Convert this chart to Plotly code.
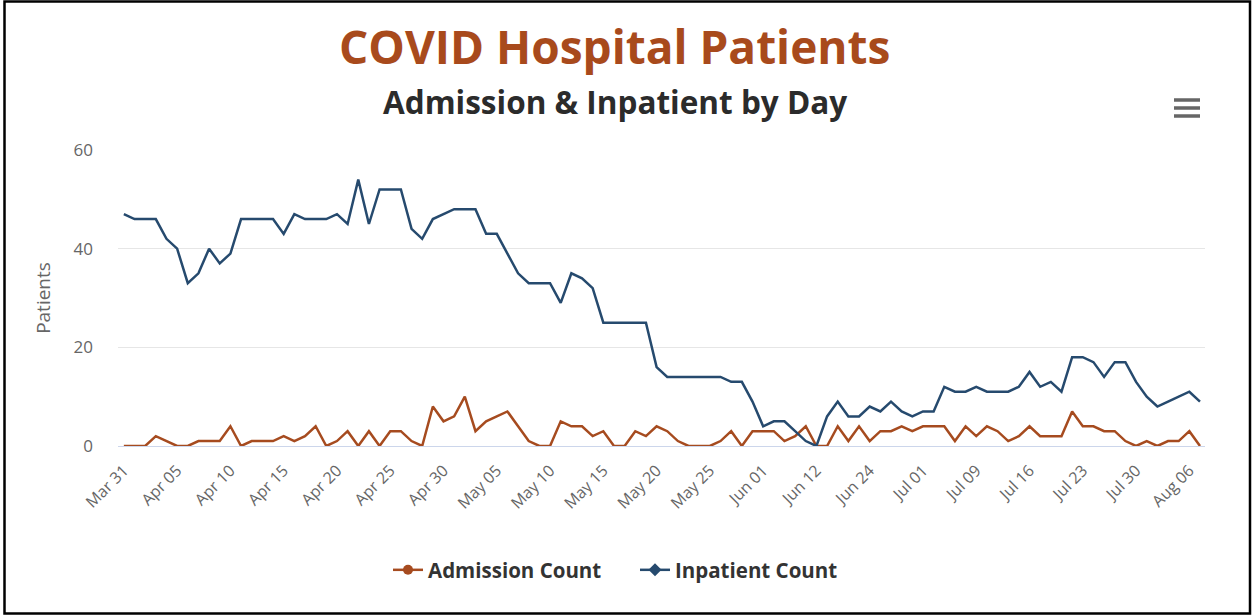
import plotly.graph_objects as go

dates = [
    "Mar 31",
    "Apr 01", "Apr 02", "Apr 03", "Apr 04", "Apr 05", "Apr 06", "Apr 07", "Apr 08", "Apr 09", "Apr 10",
    "Apr 11", "Apr 12", "Apr 13", "Apr 14", "Apr 15", "Apr 16", "Apr 17", "Apr 18", "Apr 19", "Apr 20",
    "Apr 21", "Apr 22", "Apr 23", "Apr 24", "Apr 25", "Apr 26", "Apr 27", "Apr 28", "Apr 29", "Apr 30",
    "May 01", "May 02", "May 03", "May 04", "May 05", "May 06", "May 07", "May 08", "May 09", "May 10",
    "May 11", "May 12", "May 13", "May 14", "May 15", "May 16", "May 17", "May 18", "May 19", "May 20",
    "May 21", "May 22", "May 23", "May 24", "May 25", "May 26", "May 27", "May 28", "May 29",
    "Jun 01", "Jun 02", "Jun 04", "Jun 08", "Jun 10",
    "Jun 12", "Jun 15", "Jun 17", "Jun 19", "Jun 22",
    "Jun 24", "Jun 25", "Jun 26", "Jun 29", "Jun 30",
    "Jul 01", "Jul 02", "Jul 06", "Jul 07", "Jul 08",
    "Jul 09", "Jul 10", "Jul 13", "Jul 14", "Jul 15",
    "Jul 16", "Jul 17", "Jul 20", "Jul 21", "Jul 22",
    "Jul 23", "Jul 24", "Jul 27", "Jul 28", "Jul 29",
    "Jul 30", "Jul 31", "Aug 03", "Aug 04", "Aug 05",
    "Aug 06", "Aug 07",
]

admission_count = [
    0, 0, 0, 2, 1, 0, 0, 1, 1, 1,
    4, 0, 1, 1, 1, 2, 1, 2, 4, 0,
    1, 3, 0, 3, 0, 3, 3, 1, 0, 8,
    5, 6, 10, 3, 5, 6, 7, 4, 1, 0,
    0, 5, 4, 4, 2, 3, 0, 0, 3, 2,
    4, 3, 1, 0, 0, 0, 1, 3, 0, 3,
    3, 3, 1, 2, 4, 0, 0, 4, 1, 4,
    1, 3, 3, 4, 3, 4, 4, 4, 1, 4,
    2, 4, 3, 1, 2, 4, 2, 2, 2, 7,
    4, 4, 3, 3, 1, 0, 1, 0, 1, 1,
    3, 0,
]

inpatient_count = [
    47, 46, 46, 46, 42, 40, 33, 35, 40, 37,
    39, 46, 46, 46, 46, 43, 47, 46, 46, 46,
    47, 45, 54, 45, 52, 52, 52, 44, 42, 46,
    47, 48, 48, 48, 43, 43, 39, 35, 33, 33,
    33, 29, 35, 34, 32, 25, 25, 25, 25, 25,
    16, 14, 14, 14, 14, 14, 14, 13, 13, 9,
    4, 5, 5, 3, 1, 0, 6, 9, 6, 6,
    8, 7, 9, 7, 6, 7, 7, 12, 11, 11,
    12, 11, 11, 11, 12, 15, 12, 13, 11, 18,
    18, 17, 14, 17, 17, 13, 10, 8, 9, 10,
    11, 9,
]

tick_labels = [
    "Mar 31", "Apr 05", "Apr 10", "Apr 15", "Apr 20", "Apr 25", "Apr 30",
    "May 05", "May 10", "May 15", "May 20", "May 25", "Jun 01", "Jun 12",
    "Jun 24", "Jul 01", "Jul 09", "Jul 16", "Jul 23", "Jul 30", "Aug 06",
]

series_names = ["Admission Count", "Inpatient Count"]
ORANGE = "#a64b1f"
BLUE = "#264a6e"
FONT = "Open Sans"

W, H = 1254, 616
L, R, T, B = 118, 1205, 150, 446

def px_x(px):
    return (px - L) / (R - L)

def px_y(py):
    return (B - py) / (B - T)

fig = go.Figure()

fig.add_trace(go.Scatter(
    x=dates, y=admission_count, mode="lines", name=series_names[0],
    line=dict(color=ORANGE, width=2.5), showlegend=False,
))
fig.add_trace(go.Scatter(
    x=dates, y=inpatient_count, mode="lines", name=series_names[1],
    line=dict(color=BLUE, width=2.5), showlegend=False,
))
# legend entries (line with marker symbol)
fig.add_trace(go.Scatter(
    x=[None], y=[None], mode="lines+markers", name=series_names[0],
    line=dict(color=ORANGE, width=2.5), marker=dict(symbol="circle", size=10, color=ORANGE),
    legend="legend",
))
fig.add_trace(go.Scatter(
    x=[None], y=[None], mode="lines+markers", name=series_names[1],
    line=dict(color=BLUE, width=2.5), marker=dict(symbol="diamond", size=10, color=BLUE),
    legend="legend2",
))

shapes = [
    # outer black frame
    dict(type="rect", xref="paper", yref="paper",
         x0=px_x(4.5), x1=px_x(1250), y0=px_y(613.5), y1=px_y(1.5),
         line=dict(color="black", width=2.5), fillcolor="rgba(0,0,0,0)", layer="above"),
]
# hamburger menu icon
for py in (100, 108, 116):
    shapes.append(dict(type="line", xref="paper", yref="paper",
                       x0=px_x(1174), x1=px_x(1200), y0=px_y(py), y1=px_y(py),
                       line=dict(color="#666666", width=3.5)))

legend_font = dict(family=FONT, size=20.5, color="#333333", weight="bold")

fig.update_layout(
    width=W, height=H,
    margin=dict(l=L, r=W - R, t=T, b=H - B, pad=0),
    paper_bgcolor="white", plot_bgcolor="white",
    font=dict(family=FONT, color="#666666"),
    showlegend=True,
    legend=dict(
        orientation="h", x=px_x(388), xanchor="left", y=px_y(570), yanchor="middle",
        font=legend_font, itemwidth=30, bgcolor="rgba(0,0,0,0)",
    ),
    legend2=dict(
        orientation="h", x=px_x(635), xanchor="left", y=px_y(570), yanchor="middle",
        font=legend_font, itemwidth=30, bgcolor="rgba(0,0,0,0)",
    ),
    annotations=[
        dict(text="COVID Hospital Patients", xref="paper", yref="paper",
             x=px_x(614), y=px_y(46), xanchor="center", yanchor="middle",
             showarrow=False,
             font=dict(family="Open Sans", size=46, color="#a84a1c", weight="bold")),
        dict(text="Admission & Inpatient by Day", xref="paper", yref="paper",
             x=px_x(615), y=px_y(101), xanchor="center", yanchor="middle",
             showarrow=False,
             font=dict(family="Open Sans", size=31.5, color="#2b2b2b", weight="bold")),
    ],
    shapes=shapes,
)

fig.update_xaxes(
    type="category",
    range=[-0.55, len(dates) - 1 + 0.47],
    tickmode="array", tickvals=tick_labels, ticktext=tick_labels,
    tickangle=-45,
    tickfont=dict(family=FONT, size=16, color="#666666"),
    showgrid=False, zeroline=False,
    showline=True, linecolor="#ccd6eb", linewidth=1,
    ticks="", ticklabelstandoff=8,
)
fig.update_yaxes(
    range=[0, 60], tickvals=[0, 20, 40, 60],
    tickfont=dict(family=FONT, size=17, color="#666666"),
    showgrid=True, gridcolor="#e6e6e6", gridwidth=1,
    zeroline=False, showline=False,
    ticks="", ticklabelstandoff=24,
    title=dict(text="Patients", font=dict(family=FONT, size=19, color="#666666"), standoff=17),
)

fig.write_html(
    "out.html",
    config={"displayModeBar": False},
    post_script="document.body.style.margin='0px';document.body.style.padding='0px';",
)
